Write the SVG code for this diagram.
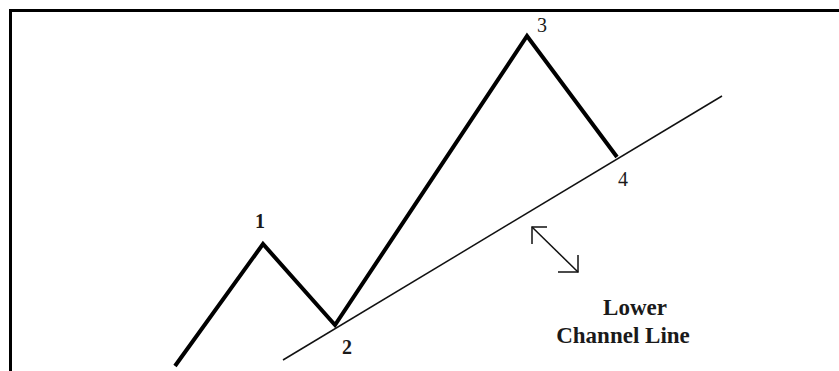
<svg xmlns="http://www.w3.org/2000/svg" width="839" height="371" viewBox="0 0 839 371">
<style>
.lbl{font-family:"Liberation Serif","Times New Roman",serif;font-weight:bold;fill:#1a1a1a;text-anchor:middle}
.num{font-size:20px}
.reg{font-weight:normal}
.cap{font-size:23px}
.wave{fill:none;stroke:#000;stroke-width:4;stroke-linejoin:miter;stroke-linecap:butt}
.thin{fill:none;stroke:#111;stroke-width:1.5}
</style>
<rect x="0" y="0" width="839" height="371" fill="#fff"/>
<g id="frame">
<path d="M10.5 371 V10.5 H839" fill="none" stroke="#000" stroke-width="3"/>
</g>
<g id="connectors">
<polyline class="wave" points="175,366 263,244 335,325 527,36 617,157"/>
<line class="thin" x1="283" y1="360" x2="722" y2="96"/>
<g id="arrow">
<line class="thin" x1="532" y1="227" x2="578" y2="272"/>
<polyline class="thin" points="547,227 532,227 532,244"/>
<polyline class="thin" points="558,272 578,272 578,255"/>
</g>
</g>
<g id="p1"><text class="lbl num" x="260" y="228">1</text></g>
<g id="p2"><text class="lbl num" x="347" y="354">2</text></g>
<g id="p3"><text class="lbl num reg" x="542" y="32">3</text></g>
<g id="p4"><text class="lbl num reg" x="623" y="186">4</text></g>
<g id="label"><text class="lbl cap" x="635" y="315">Lower</text><text class="lbl cap" x="623" y="343">Channel Line</text></g>
</svg>
